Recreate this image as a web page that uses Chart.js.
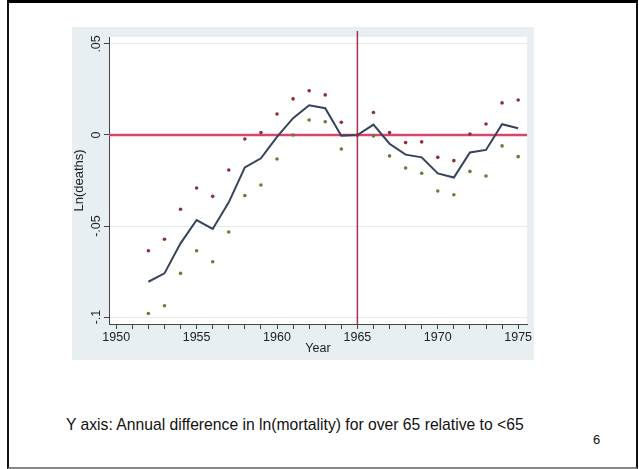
<!DOCTYPE html>
<html>
<head>
<meta charset="utf-8">
<script src="https://cdn.jsdelivr.net/npm/chart.js@4"></script>
<style>
  body { margin: 0; background: #fff; font-family: "Liberation Sans", Arial, sans-serif; }
  #slide { position: absolute; left: 7px; top: 0; width: 631px; height: 469px; box-sizing: border-box;
           border-left: 2px solid #111; border-right: 2px solid #111; border-top: 3px solid #000; border-bottom: 2px solid #888; }
  #graph { position: absolute; left: 72px; top: 27px; width: 462px; height: 333px; background: #e7eff2; }
  #caption { position: absolute; left: 66px; top: 416px; font-size: 15.7px; line-height: 18px; color: #111; white-space: nowrap; }
  #page { position: absolute; left: 593px; top: 432px; font-size: 13px; line-height: 16px; color: #111; }
</style>
</head>
<body>
<div id="slide"></div>
<div id="graph"><canvas id="c" width="462" height="333"></canvas></div>
<div id="caption">Y axis: Annual difference in ln(mortality) for over 65 relative to &lt;65</div>
<div id="page">6</div>
<script>
const years = [1952, 1953, 1954, 1955, 1956, 1957, 1958, 1959, 1960, 1961, 1962, 1963,
               1964, 1965, 1966, 1967, 1968, 1969, 1970, 1971, 1972, 1973, 1974, 1975];
// scatter points, two series per year
const seriesA = [-0.0636, -0.0573, -0.0408, -0.0291, -0.0337, -0.0192, -0.0022, 0.0013, 0.0115, 0.0198, 0.0243, 0.0220,
                 0.0070, 0.0000, 0.0123, 0.0013, -0.0042, -0.0038, -0.0123, -0.0141, 0.0005, 0.0060, 0.0176, 0.0192];
const seriesB = [-0.0980, -0.0938, -0.0760, -0.0636, -0.0696, -0.0533, -0.0333, -0.0275, -0.0132, 0.0000, 0.0082, 0.0073,
                 -0.0077, 0.0000, -0.0005, -0.0115, -0.0181, -0.0210, -0.0308, -0.0328, -0.0200, -0.0225, -0.0060, -0.0119];
// connected line
const lineVals = [-0.0806, -0.0760, -0.0595, -0.0467, -0.0516, -0.0370, -0.0178, -0.0128, -0.0010, 0.0092, 0.0163, 0.0147,
                  -0.0004, 0.0000, 0.0057, -0.0048, -0.0108, -0.0123, -0.0211, -0.0234, -0.0096, -0.0082, 0.0059, 0.0037];
const yTicks = [-0.1, -0.05, 0, 0.05];
const yTickLabels = ['-.1', '-.05', '0', '.05'];
const xLabelYears = [1950, 1955, 1960, 1965, 1970, 1975];
const refYear = 1965;

const pts = vals => years.map((y, i) => ({ x: y, y: vals[i] }));

const stataPlugin = {
  id: 'stata',
  beforeDraw(chart) {
    const { ctx, chartArea: a } = chart;
    ctx.save();
    ctx.fillStyle = '#ffffff';
    ctx.fillRect(a.left, a.top, a.right - a.left, a.bottom - a.top);
    ctx.restore();
  },
  beforeDatasetsDraw(chart) {
    const { ctx, chartArea: a, scales } = chart;
    const y0 = scales.y.getPixelForValue(0);
    const xr = scales.x.getPixelForValue(refYear);
    ctx.save();
    ctx.strokeStyle = '#a8324e';
    ctx.lineWidth = 1.5;
    ctx.beginPath();
    ctx.moveTo(xr, a.top - 6);
    ctx.lineTo(xr, a.bottom);
    ctx.stroke();
    ctx.strokeStyle = '#d9436c';
    ctx.lineWidth = 2.5;
    ctx.beginPath();
    ctx.moveTo(a.left, y0);
    ctx.lineTo(a.right, y0);
    ctx.stroke();
    ctx.restore();
  },
  afterDraw(chart) {
    // rotated y tick labels, Stata style
    const { ctx, scales } = chart;
    ctx.save();
    ctx.fillStyle = '#222';
    ctx.font = '12.5px "Liberation Sans", Arial, sans-serif';
    ctx.textAlign = 'center';
    ctx.textBaseline = 'middle';
    yTicks.forEach((v, i) => {
      const py = scales.y.getPixelForValue(v);
      ctx.save();
      ctx.translate(25, py);
      ctx.rotate(-Math.PI / 2);
      ctx.fillText(yTickLabels[i], 0, 0);
      ctx.restore();
    });
    ctx.restore();
  }
};

new Chart(document.getElementById('c'), {
  type: 'line',
  data: {
    datasets: [
      { type: 'scatter', data: pts(seriesA), showLine: false, pointRadius: 1.8, pointBackgroundColor: '#8e2d3f', pointBorderWidth: 0 },
      { type: 'scatter', data: pts(seriesB), showLine: false, pointRadius: 1.8, pointBackgroundColor: '#6f7a3a', pointBorderWidth: 0 },
      { data: pts(lineVals), borderColor: '#34435a', borderWidth: 2, pointRadius: 0, tension: 0, fill: false }
    ]
  },
  options: {
    responsive: false,
    animation: false,
    layout: { padding: { left: 0, top: 10, right: 7, bottom: 0 } },
    plugins: { legend: { display: false }, tooltip: { enabled: false } },
    scales: {
      x: {
        type: 'linear', min: 1949.55, max: 1975.55,
        afterBuildTicks: s => { const t = []; for (let v = 1950; v <= 1975; v++) t.push({ value: v }); s.ticks = t; },
        afterFit: s => { s.height = 36; },
        grid: { drawOnChartArea: false, tickLength: 5, tickColor: '#444' },
        border: { color: '#444', width: 1 },
        ticks: {
          padding: 1.5, color: '#222', maxRotation: 0, autoSkip: false,
          font: { family: '"Liberation Sans", Arial, sans-serif', size: 12.5 },
          callback: v => xLabelYears.includes(v) ? String(v) : ''
        },
        title: { display: true, text: 'Year', color: '#222', padding: { top: 0, bottom: 4 },
                 font: { family: '"Liberation Sans", Arial, sans-serif', size: 12.5 } }
      },
      y: {
        min: -0.1038, max: 0.0538,
        afterBuildTicks: s => { s.ticks = yTicks.map(v => ({ value: v })); },
        afterFit: s => { s.width = 37; },
        grid: { color: '#e4ecef', lineWidth: 1, tickLength: 5, tickColor: '#444' },
        border: { color: '#444', width: 1 },
        ticks: { display: false },
        title: { display: true, text: 'Ln(deaths)', color: '#222', padding: { top: 0, bottom: 0 },
                 font: { family: '"Liberation Sans", Arial, sans-serif', size: 13 } }
      }
    }
  },
  plugins: [stataPlugin]
});
</script>
</body>
</html>
